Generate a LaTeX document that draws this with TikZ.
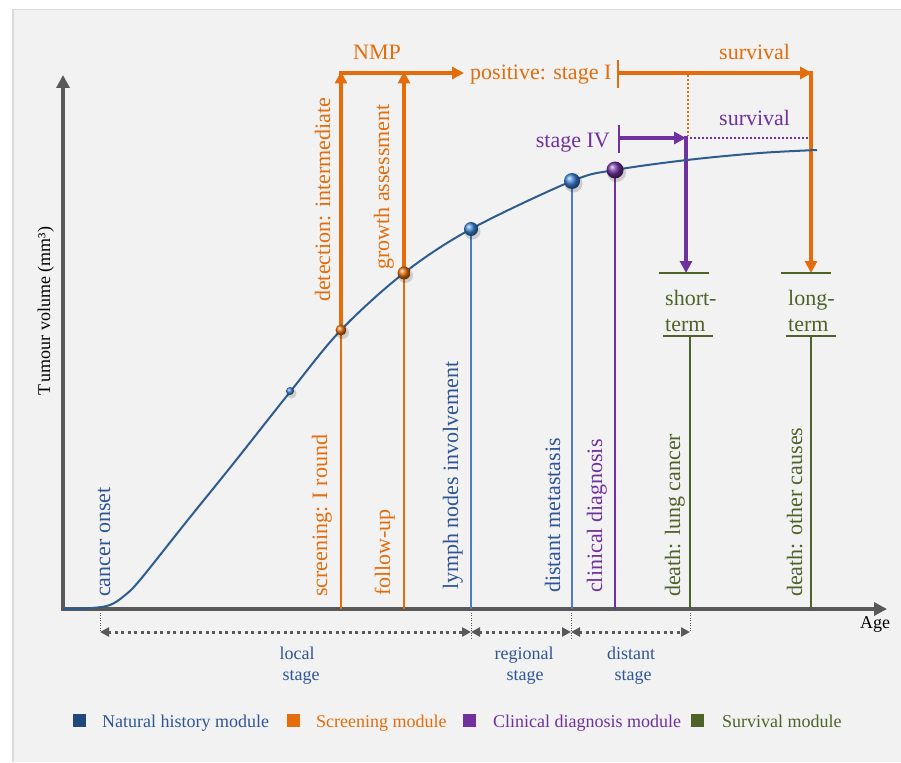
\documentclass[tikz,border=0pt]{standalone}
\usepackage{fontspec}
\setmainfont{Liberation Serif}
\usetikzlibrary{arrows.meta,calc}
\definecolor{curvecol}{HTML}{2E5C8E}
\definecolor{navytext}{HTML}{2F5597}
\definecolor{navysq}{HTML}{1F497D}
\definecolor{lblue}{HTML}{4A7EC0}
\definecolor{bballcol}{HTML}{3B82D6}
\definecolor{orng}{HTML}{E46C0A}
\definecolor{purp}{HTML}{7030A0}
\definecolor{grn}{HTML}{4F6228}
\definecolor{axgray}{HTML}{595959}
\definecolor{panel}{HTML}{F2F2F2}
\begin{document}
\begin{tikzpicture}[x=1pt,y=-1pt,
  big/.style={font=\fontsize{22}{26}\selectfont, inner sep=0pt},
  small/.style={font=\fontsize{18}{21}\selectfont, inner sep=0pt},
  vlab/.style={big, rotate=90, anchor=base west},
  axisline/.style={draw=axgray, line width=3.5pt, line join=miter,
     {Triangle[width=13pt,length=13pt]}-{Triangle[width=13pt,length=13pt]}},
  thinline/.style={line width=1.6pt},
  thickarrow/.style={line width=3.4pt, -{Triangle[width=12pt,length=12pt]}},
  tick/.style={line width=2pt},
  bar/.style={line width=2.5pt},
  stagearrow/.style={draw=axgray, line width=3pt, dash pattern=on 3pt off 3.5pt,
     {Triangle[width=9pt,length=9pt]}-{Triangle[width=9pt,length=9pt]}},
  guide/.style={draw=axgray, line width=1pt, dash pattern=on 1pt off 1.5pt},
  dotline/.style={line width=2pt, dash pattern=on 2pt off 2pt},
  legsq/.style={minimum size=13pt, inner sep=0pt, anchor=north west},
  legtext/.style={small, anchor=base west}
]
\useasboundingbox (0,0) rectangle (901,762);
% panel
\fill[white] (0,0) rectangle (901,762);
\fill[panel] (12,9) rectangle (901,762);
\draw[black!14, line width=1.5pt] (12.75,762) -- (12.75,9.75) -- (901,9.75);

% key points on curve
\coordinate (p0) at (290,391);
\coordinate (p1) at (341,330);
\coordinate (p2) at (404,273);
\coordinate (p3) at (471,229);
\coordinate (p4) at (572,181);
\coordinate (p5) at (615,170);

% axes
\coordinate (O) at (63,609);
\coordinate (Ytop) at (63,75);
\coordinate (Xend) at (887,609);
\draw[axisline] (Ytop) -- (O) -- (Xend);
\node[small, anchor=base west] (age) at (860,628) {Age};
\node[small, rotate=90, anchor=base] (ylab) at (50,311) {T\kern2pt umour volume (mm³)};

% vertical event lines
\draw[orng, thinline] (341,609) -- (p1);
\draw[orng, thinline] (404,609) -- (p2);
\draw[lblue, thinline] (471,609) -- (p3);
\draw[lblue, thinline] (572,609) -- (p4);
\draw[purp, thinline] (615,609) -- (p5);

% screening arrows
\coordinate (nmpL) at (339.3,73);
\coordinate (nmpR) at (464,73);
\draw[orng, thickarrow] (p1) -- (341,71.5);
\draw[orng, thickarrow] (p2) -- (404,71.5);
\draw[orng, line width=3.2pt, -{Triangle[width=12pt,length=12pt]}] (nmpL) -- (nmpR);
\node[big, orng, anchor=base] (nmp) at (377,60) {NMP};
\node[big, orng, anchor=base west] (pos) at (470,80) {positive: stage I};

% stage I survival
\coordinate (s1a) at (618,73);
\coordinate (s1b) at (812,73);
\coordinate (lt) at (811,273);
\draw[orng, tick] (618,60) -- (618,88);
\draw[orng, line width=3.2pt, -{Triangle[width=12pt,length=12pt]}] (s1a) -- (s1b);
\draw[orng, thickarrow] (811,71.4) -- (lt);
\node[big, orng, anchor=base west] (surv1) at (719,60) {survival};

% stage IV survival
\coordinate (s4a) at (619,138);
\coordinate (s4b) at (686,138);
\coordinate (st) at (686,273);
\draw[purp, tick] (619,125) -- (619,153);
\draw[purp, line width=3.2pt, -{Triangle[width=12pt,length=12pt]}] (s4a) -- (s4b);
\draw[purp, thickarrow] (686,136.4) -- (st);
\draw[orng, dotline] (688,75) -- (688,136);
\draw[purp, dotline] (690,138) -- (808,138);
\node[big, purp, anchor=base east] (st4) at (610,148) {stage IV};
\node[big, purp, anchor=base west] (surv2) at (719,126) {survival};

% survival outcomes
\draw[grn, bar] (659,273) -- (709,273);
\draw[grn, bar] (663,336) -- (713,336);
\draw[grn, thinline] (690,336) -- (690,609);
\draw[grn, bar] (781,273) -- (831,273);
\draw[grn, bar] (786,336) -- (836,336);
\draw[grn, thinline] (811,336) -- (811,609);
\node[big, grn, anchor=base west] (sh1) at (665,305) {short-};
\node[big, grn, anchor=base west] (sh2) at (665,331) {term};
\node[big, grn, anchor=base west] (lo1) at (788,305) {long-};
\node[big, grn, anchor=base west] (lo2) at (788,331) {term};

% curve
\draw[curvecol, line width=2pt] plot[smooth, tension=0.55] coordinates {
 (63,609) (92,608) (110,605) (124,596) (140,580) (187,521) (233,464) (290,392)
 (341,330) (404,273) (471,229) (572,181) (615,170) (687,160) (760,153) (817,150)};

% balls
\foreach \x/\y/\r/\c in {290/391/4/bballcol, 341/330/5.5/orng, 404/273/6.5/orng,
   471/229/7/bballcol, 572/181/8/bballcol, 615/170/8.5/purp}{
  \fill[black, opacity=0.15] (\x+1.5,\y+2.5) circle (\r pt+1pt);
  \shade[ball color=\c] (\x,\y) circle (\r pt);
}

% vertical labels
\node[vlab, navytext] (lonset) at (110,597) {cancer onset};
\node[vlab, orng] (lscreen) at (327,597) {screening: I round};
\node[vlab, orng] (lfollow) at (390,596) {follow-up};
\node[vlab, orng] (ldetect) at (330,302) {detection: intermediate};
\node[vlab, orng] (lgrowth) at (389,270) {growth assessment};
\node[vlab, navytext] (llymph) at (458,590) {lymph nodes involvement};
\node[vlab, navytext] (lmeta) at (560,593) {distant metastasis};
\node[vlab, purp] (lclin) at (602,593) {clinical diagnosis};
\node[vlab, grn] (llung) at (680,597) {death: lung cancer};
\node[vlab, grn] (lother) at (802,597) {death: other causes};

% stage arrows
\coordinate (g0) at (100,632);
\coordinate (g1) at (471,632);
\coordinate (g2) at (571,632);
\coordinate (g3) at (690,632);
\draw[guide] (100,610) -- (g0);
\draw[guide] (471,610) -- (471,640);
\draw[guide] (571,610) -- (571,640);
\draw[guide] (690,610) -- (g3);
\draw[stagearrow] (g0) -- (g1);
\draw[stagearrow] (g1) -- (g2);
\draw[stagearrow] (g2) -- (g3);
\node[small, navytext, anchor=base] (loc1) at (297,659) {local};
\node[small, navytext, anchor=base] (loc2) at (301,680) {stage};
\node[small, navytext, anchor=base] (reg1) at (524,659) {regional};
\node[small, navytext, anchor=base] (reg2) at (525,680) {stage};
\node[small, navytext, anchor=base] (dis1) at (631,659) {distant};
\node[small, navytext, anchor=base] (dis2) at (633,680) {stage};

% legend
\node[legsq, fill=navysq] (sq1) at (73,714) {};
\node[legtext, navytext] (lg1) at (102,727) {Natural history module};
\node[legsq, fill=orng] (sq2) at (287,714) {};
\node[legtext, orng] (lg2) at (316,727) {Screening module};
\node[legsq, fill=purp] (sq3) at (463,714) {};
\node[legtext, purp] (lg3) at (493,727) {Clinical diagnosis module};
\node[legsq, fill=grn] (sq4) at (691,714) {};
\node[legtext, grn] (lg4) at (722,727) {Survival module};
\end{tikzpicture}
\end{document}
